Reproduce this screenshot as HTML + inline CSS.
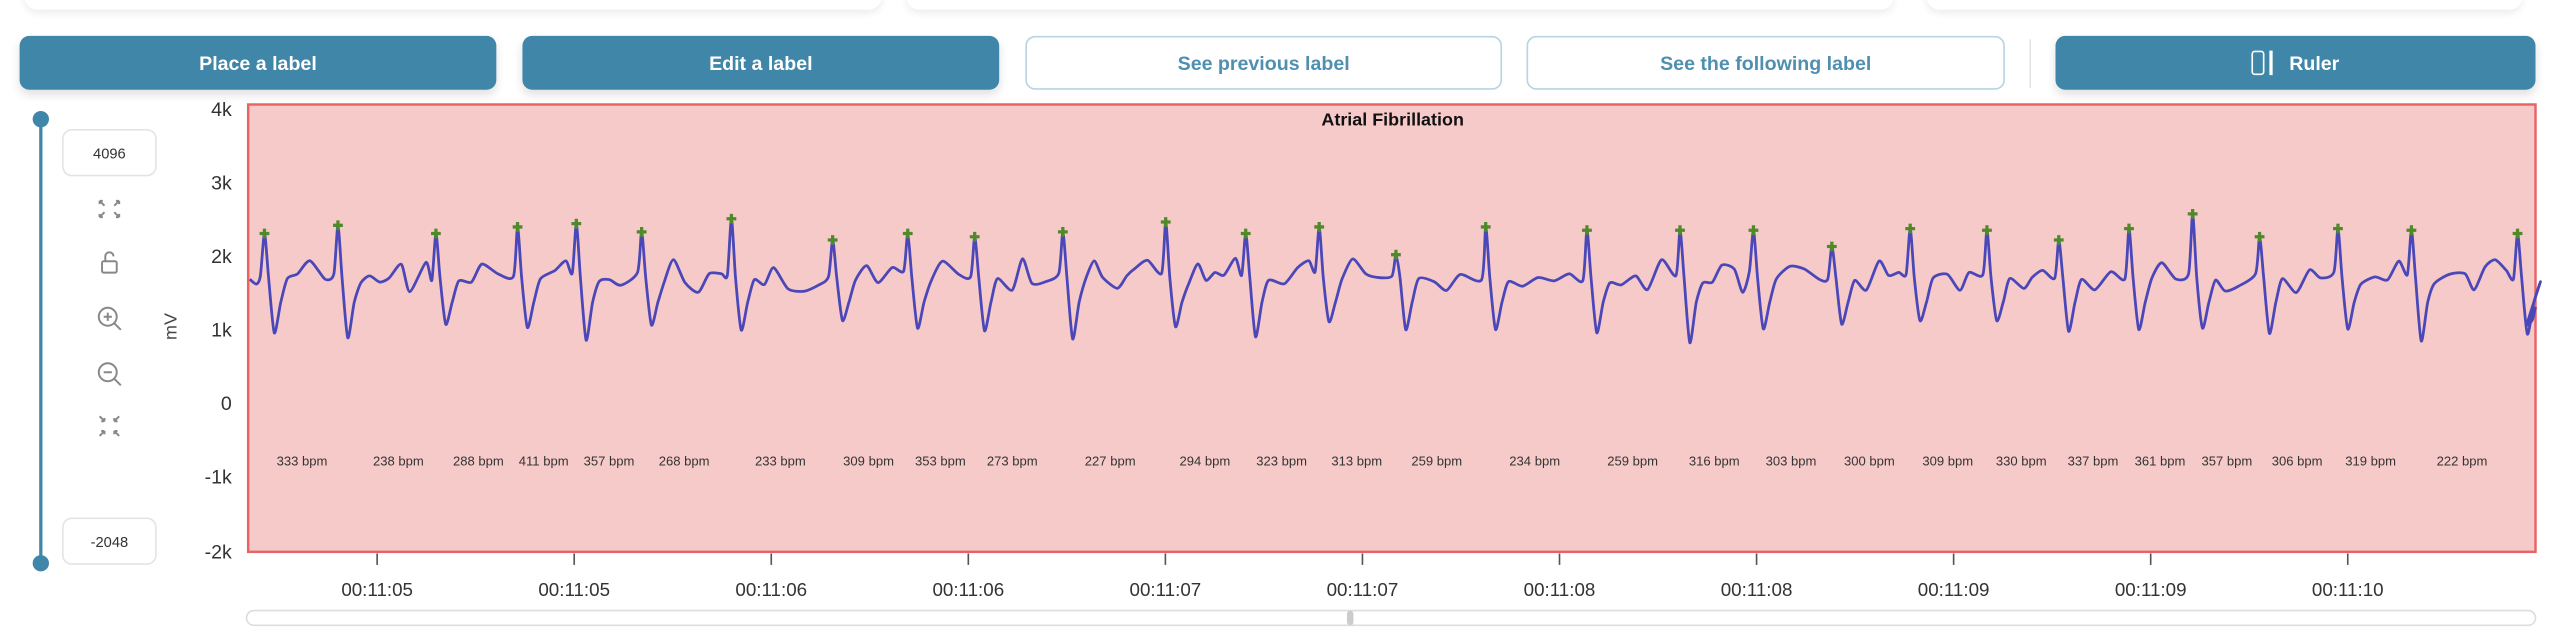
<!DOCTYPE html>
<html><head><meta charset="utf-8"><style>
html,body{margin:0;padding:0;background:#fff;width:2560px;height:636px;overflow:hidden}
#w{position:absolute;left:0;top:0;width:1568px;height:390px;transform:scale(1.63265);transform-origin:0 0;font-family:"Liberation Sans",sans-serif}
.card{position:absolute;top:-10px;height:16px;background:#fff;border-radius:10px;box-shadow:0 2px 5px rgba(0,0,0,.08)}
.btn{position:absolute;top:22px;height:33px;border-radius:6px;display:flex;align-items:center;justify-content:center;font-weight:bold;font-size:12px;box-sizing:border-box}
.f{background:#3f86a8;color:#fff;box-shadow:0 3px 6px rgba(0,0,0,.12)}
.o{background:#fff;color:#4f8fb0;border:1.5px solid #b7d4e2}
.yl{position:absolute;right:1426px;font-size:12px;color:#333;transform:translateY(-50%)}
.box{position:absolute;left:38px;width:56px;height:27px;border:1px solid #e4e4e4;border-radius:6px;font-size:9px;color:#333;display:flex;align-items:center;justify-content:center;background:#fff}
.ic{position:absolute;left:59px;width:16px;text-align:center;color:#888;font-size:12px}
</style></head><body><div id="w">
<div class="card" style="left:15px;width:525px"></div>
<div class="card" style="left:555px;width:605px"></div>
<div class="card" style="left:1180px;width:365px"></div>
<div class="btn f" style="left:12px;width:292px">Place a label</div>
<div class="btn f" style="left:320px;width:292px">Edit a label</div>
<div class="btn o" style="left:628px;width:292px">See previous label</div>
<div class="btn o" style="left:935px;width:293px">See the following label</div>
<div style="position:absolute;left:1243px;top:24px;width:1px;height:30px;background:#e6e6e6"></div>
<div class="btn f" style="left:1259px;width:294px"><span style="display:inline-block;width:6px;height:13px;border:1.5px solid #fff;border-radius:2px;margin-right:3px"></span><span style="display:inline-block;width:2px;height:15px;background:#fff;margin-right:10px"></span>Ruler</div>

<div style="position:absolute;left:24px;top:73px;width:2px;height:272px;background:#3f86a8"></div>
<div style="position:absolute;left:20px;top:68px;width:10px;height:10px;border-radius:50%;background:#3f86a8"></div>
<div style="position:absolute;left:20px;top:340px;width:10px;height:10px;border-radius:50%;background:#3f86a8"></div>
<div class="box" style="top:79px">4096</div>
<div class="box" style="top:317px">-2048</div>
<svg style="position:absolute;left:0;top:0" width="120" height="300" fill="none" stroke="#888" stroke-width="1.2">
<path d="M61,123l3,3M61,123h2M61,123v2M73,123l-3,3M73,123h-2M73,123v2M61,133l3,-3M61,133h2M61,133v-2M73,133l-3,-3M73,133h-2M73,133v-2"/>
<rect x="62.5" y="160" width="9" height="7" rx="1"/><path d="M64.5,160v-3a2.5,2.5 0 0 1 5,0"/>
<circle cx="66" cy="194" r="5.5"/><path d="M70,198l4,4M66,191.5v5M63.5,194h5"/>
<circle cx="66" cy="228" r="5.5"/><path d="M70,232l4,4M63.5,228h5"/>
<path d="M64,258l-3,-3M64,258h-2M64,258v-2M70,258l3,-3M70,258h2M70,258v-2M64,264l-3,3M64,264h-2M64,264v2M70,264l3,3M70,264h2M70,264v2"/>
</svg>
<div style="position:absolute;left:97px;top:194px;font-size:11px;color:#444;transform:rotate(-90deg)">mV</div>

<div class="yl" style="top:67px">4k</div>
<div class="yl" style="top:112px">3k</div>
<div class="yl" style="top:157px">2k</div>
<div class="yl" style="top:202px">1k</div>
<div class="yl" style="top:247px">0</div>
<div class="yl" style="top:292px">-1k</div>
<div class="yl" style="top:338px">-2k</div>

<svg style="position:absolute;left:0;top:0" width="1568" height="390">
<rect x="152" y="64" width="1401" height="274" fill="#f7caca" stroke="#e86464" stroke-width="1.5"/>
<text x="853" y="77" font-size="11" font-weight="bold" text-anchor="middle" fill="#111" font-family="Liberation Sans">Atrial Fibrillation</text>
<path id="ecg" fill="none" stroke="#4a47b8" stroke-width="1.7" stroke-linejoin="round"/>
<g id="stars" stroke="#4f8a2a" stroke-width="2"></g>
<g id="bpm" font-size="8" fill="#333" text-anchor="middle" font-family="Liberation Sans"></g>
<g id="xt" font-size="11.5" fill="#333" text-anchor="middle" font-family="Liberation Sans" stroke-width="1"></g>
<rect x="151" y="374" width="1402" height="9" rx="4.5" fill="#fff" stroke="#ddd"/>
<rect x="825" y="374" width="4" height="9" rx="2" fill="#ccc"/>
</svg>
</div>
<script>
var pk=[[162,143],[207,138],[267,143],[317,139],[353,137],[393,142],[448,134],[510,147],[556,143],[597,145],[651,142],[714,136],[763,143],[808,139],[855,156],[910,139],[972,141],[1029,141],[1074,141],[1122,151],[1170,140],[1217,141],[1261,147],[1304,140],[1343,131],[1384,145],[1432,140],[1477,141],[1542,143]];
var sd=7;function r(){sd=(sd*9301+49297)%233280;return sd/233280;}
var P=[[153,171],[157,174]];
for(var i=0;i<pk.length;i++){var p=pk[i][0],py=pk[i][1];
P.push([p-2.5,166+r()*6],[p,py],[p+2.5,170],[p+6,196+r()*14],[p+10,185],[p+14,170+r()*5]);
var nx=i+1<pk.length?pk[i+1][0]:1553,x=p+14;
while(true){x+=5+r()*5;if(x>nx-6)break;P.push([x,158+r()*22]);}
}
P.push([1548,198],[1551,196],[1553,188]);
var d="M"+P[0][0]+","+P[0][1];
for(var k=0;k<P.length-1;k++){var a=P[Math.max(k-1,0)],b=P[k],c=P[k+1],e=P[Math.min(k+2,P.length-1)];
var t=0.12;var c1x=b[0]+(c[0]-a[0])*t,c1y=b[1]+(c[1]-a[1])*t,c2x=c[0]-(e[0]-b[0])*t,c2y=c[1]-(e[1]-b[1])*t;
d+=" C"+c1x.toFixed(1)+","+c1y.toFixed(1)+" "+c2x.toFixed(1)+","+c2y.toFixed(1)+" "+c[0].toFixed(1)+","+c[1].toFixed(1);}
document.getElementById('ecg').setAttribute('d',d);
var s="";pk.forEach(function(q){s+='<path d="M'+(q[0]-3)+','+q[1]+'h6M'+q[0]+','+(q[1]-3)+'v6"/>';});
document.getElementById('stars').innerHTML=s;
var b=[[333,185],[238,244],[288,293],[411,333],[357,373],[268,419],[233,478],[309,532],[353,576],[273,620],[227,680],[294,738],[323,785],[313,831],[259,880],[234,940],[259,1000],[316,1050],[303,1097],[300,1145],[309,1193],[330,1238],[337,1282],[361,1323],[357,1364],[306,1407],[319,1452],[222,1508]];
var t="";b.forEach(function(q){t+='<text x="'+q[1]+'" y="285">'+q[0]+' bpm</text>';});
document.getElementById('bpm').innerHTML=t;
var lab=["00:11:05","00:11:05","00:11:06","00:11:06","00:11:07","00:11:07","00:11:08","00:11:08","00:11:09","00:11:09","00:11:10"];
var u="";lab.forEach(function(l,i){var x=231+i*120.7;u+='<line x1="'+x+'" y1="339" x2="'+x+'" y2="346" stroke="#555"/><text x="'+x+'" y="365">'+l+'</text>';});
document.getElementById('xt').innerHTML=u;
</script>
</body></html>
